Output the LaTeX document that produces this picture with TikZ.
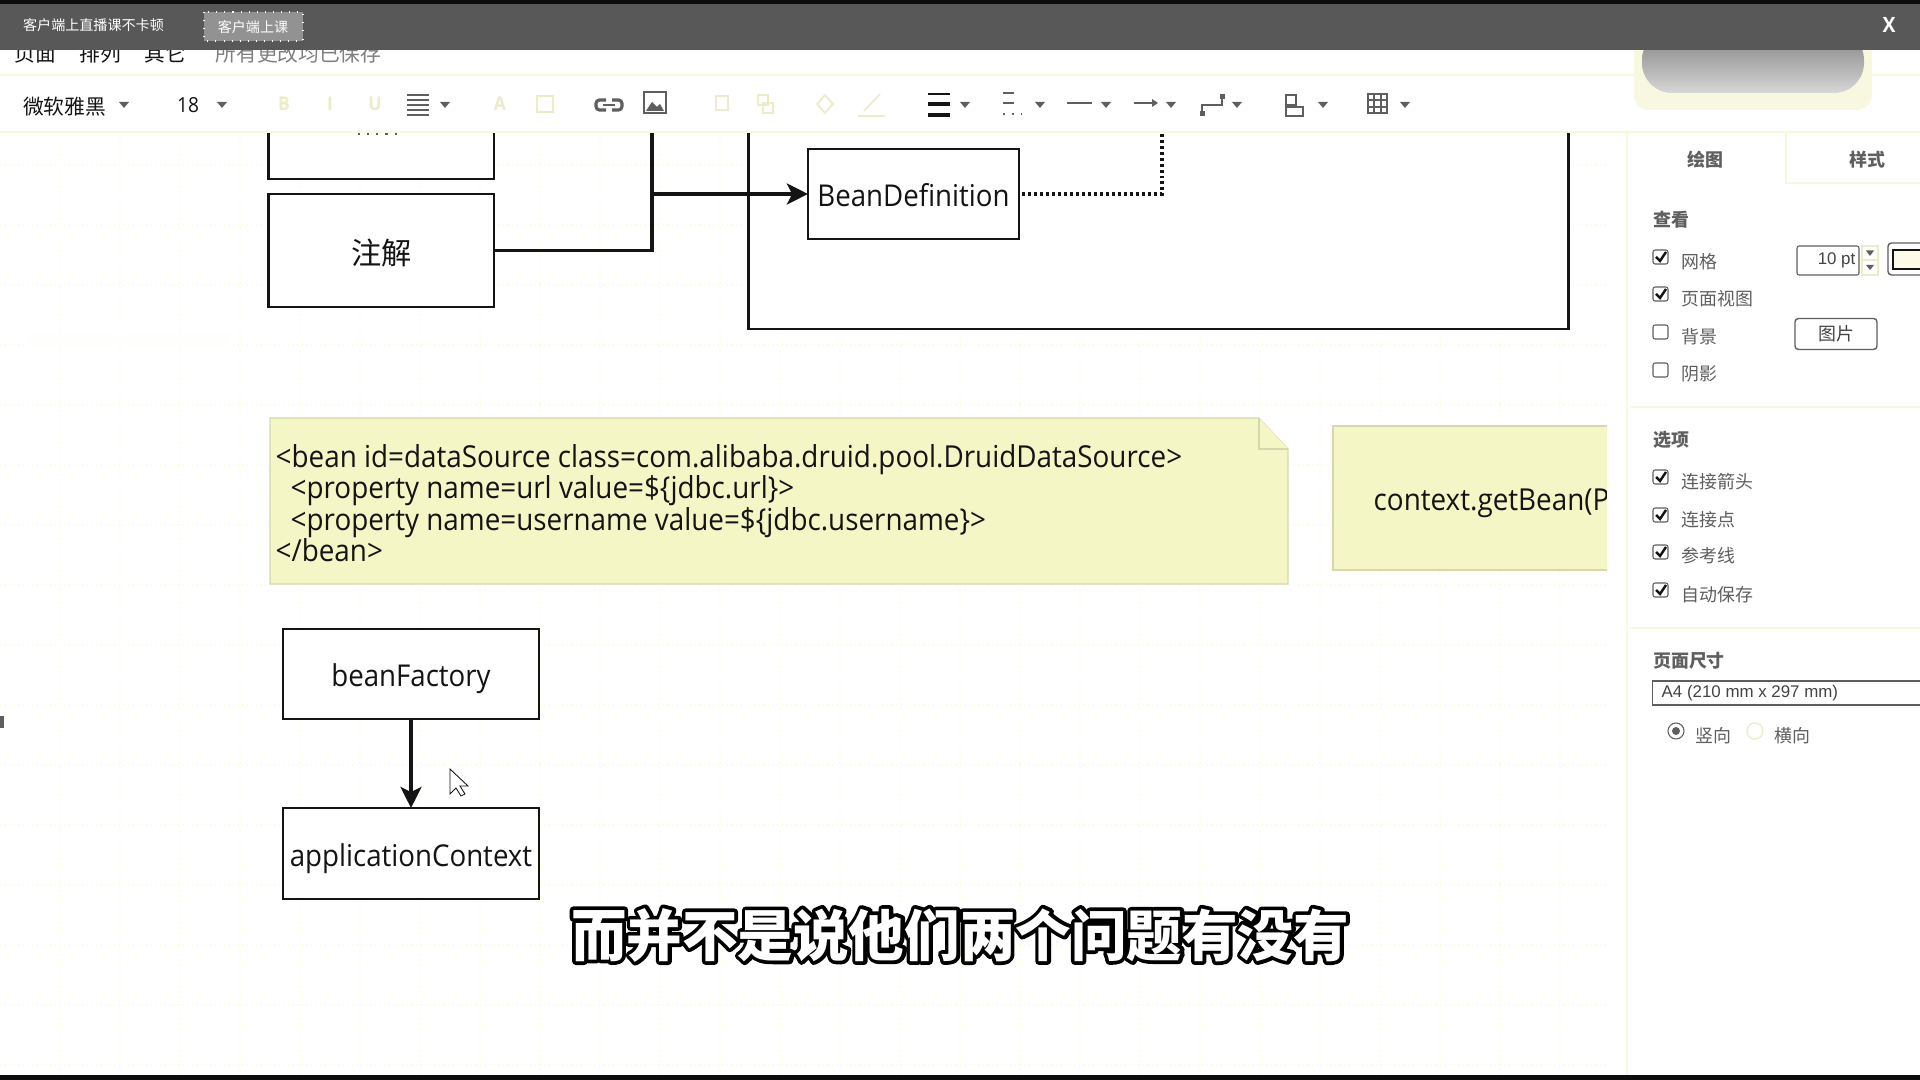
\documentclass[tikz,border=0pt]{standalone}
\usepackage{fontspec}
\usetikzlibrary{calc,arrows.meta,positioning}
\setmainfont[FakeStretch=0.92]{Open Sans}
\newfontfamily\cjk{Noto Sans CJK SC}
\newfontfamily\arial{Liberation Sans}
\definecolor{mynote}{RGB}{245,246,197}
\definecolor{mynoteline}{RGB}{215,215,175}
\definecolor{mygrid}{RGB}{251,251,222}
\definecolor{mybar}{RGB}{88,88,88}
\definecolor{myink}{RGB}{20,20,20}
\definecolor{mygrey}{RGB}{95,95,95}
\definecolor{myfaint}{RGB}{236,236,200}
\definecolor{mysep}{RGB}{248,248,225}
\tikzstyle{boxnode}=[draw=myink,fill=white,line width=.8pt,rectangle,inner sep=0pt,outer sep=0pt,text height=8pt,text depth=.8pt,font=\fontsize{8.55}{10}\selectfont,text=myink]
\tikzstyle{link}=[draw=myink,line width=.95pt]
\tikzstyle{arrowlink}=[link,-{Stealth[length=6pt,width=6pt,inset=1.5pt]}]
\tikzstyle{notetext}=[anchor=west,align=left,inner sep=0pt,font=\fontsize{8.6}{8.96}\selectfont,text=myink]
\tikzstyle{menutext}=[inner sep=0pt,font=\cjk\fontsize{5.9}{7}\selectfont,text=myink]
\tikzstyle{paneltext}=[anchor=west,inner sep=0pt,font=\cjk\fontsize{5.1}{6}\selectfont,text=mygrey]
\tikzstyle{panelhead}=[inner sep=0pt,font=\cjk\bfseries\fontsize{5.1}{6}\selectfont,text=mygrey]
\tikzstyle{checkbox}=[draw=mygrey,fill=white,rounded corners=.6pt,line width=.3pt]
\tikzstyle{subt}=[inner sep=0pt,font=\cjk\bfseries\fontsize{15.8}{17}\selectfont]
\tikzstyle{icon}=[draw=mygrey,line width=.5pt]
\tikzstyle{faint}=[draw=myfaint,line width=.5pt]
\tikzstyle{fainttext}=[inner sep=0pt,font=\bfseries\fontsize{5.4}{6}\selectfont,text=myfaint]
\newcommand{\chevron}[2]{\fill[mygrey] (#1-4,#2-2.5) -- (#1+4,#2-2.5) -- (#1,#2+3) -- cycle;}
\newcommand{\strokeonly}[1]{\special{pdf:literal direct 1 j 1 J 2.1 w 1 Tr 0 0 0 RG}#1\special{pdf:literal direct 0 Tr}}

\begin{document}
\begin{tikzpicture}[x=.01cm,y=-.01cm]
\useasboundingbox (0,0) rectangle (1920,1080);
\fill[white] (0,0) rectangle (1920,1080);
% grid of the page
\foreach \x in {60,120,...,1620} \draw[mygrid,line width=.3pt,densely dotted] (\x,132) -- (\x,1075);
\foreach \y in {165,225,...,1065} \draw[mygrid,line width=.3pt,densely dotted] (0,\y) -- (1607,\y);
\fill[white!97!myfaint] (27,333) rectangle (230,346);
% outer frame, boxes
\draw (1158.5,195) node [boxnode, minimum width=8.19cm, minimum height=2.68cm] (frame) {};
\draw (381.25,122.5) node [boxnode, minimum width=2.255cm, minimum height=1.13cm] (xmlbox) {};
\draw (381.25,250.5) node [boxnode, minimum width=2.255cm, minimum height=1.13cm, text height=8.8pt, font=\cjk\fontsize{8.6}{10}\selectfont] (annot) {注解};
\draw (913.5,194) node [boxnode, minimum width=2.11cm, minimum height=.9cm] (bd) {BeanDefinition};
\draw (411,674) node [boxnode, minimum width=2.56cm, minimum height=.9cm] (factory) {beanFactory};
\draw (411,853.5) node [boxnode, minimum width=2.56cm, minimum height=.91cm] (appctx) {applicationContext};
\draw[mygrey,line width=.6pt,dotted] (358,133.5) -- (403,133.5);
% connectors
\coordinate (joint) at (652,194);
\coordinate (uptop) at (652,100);
\coordinate (dottop) at (1162,120);
\draw[link] (annot.east) -| (uptop);
\draw[arrowlink] (joint) -- (bd.west);
\draw[link,dash pattern=on .85pt off .85pt] ([xshift=.03cm]bd.east) -| (dottop);
\draw[arrowlink] (factory.south) -- (appctx.north);
% notes
\draw[fill=mynote,draw=mynoteline,line width=.3pt] (270,418) -- (1259,418) -- (1288,449) -- (1288,584) -- (270,584) -- cycle;
\draw[fill=mynote,draw=mynoteline,line width=.3pt] (1259,418) -- (1259,449) -- (1288,449);
\draw (275,503) node [notetext] (beanxml) {<bean id=dataSource class=com.alibaba.druid.pool.DruidDataSource>\\
\hspace*{.15cm}<property name=url value=\$\{jdbc.url\}>\\
\hspace*{.15cm}<property name=username value=\$\{jdbc.username\}>\\
</bean>};
\draw[fill=mynote,draw=mynoteline,line width=.3pt] (1333,426) rectangle (1640,570);
\draw (1373,503) node [notetext] (getbean) {context.getBean(P};
% pointer
\draw[fill=white,draw=myink,line width=.25pt] (450,769) -- (450,794) -- (456,788) -- (461,796) -- (465,794) -- (460,786) -- (468,786) -- cycle;
\fill[mygrey] (0,716) rectangle (4,728);
% right panel
\fill[white] (1607,132) rectangle (1920,1075);
\draw[mysep,line width=.5pt] (1627,132) -- (1627,1075);
\draw[mysep,line width=.5pt] (1786,132) -- (1786,183) -- (1920,183);
\draw[mysep,line width=.5pt] (1630,407) -- (1920,407);
\draw[mysep,line width=.5pt] (1630,628) -- (1920,628);
\draw (1705,160) node [panelhead] (tabdraw) {绘图};
\draw (1867,160) node [panelhead] (tabstyle) {样式};
\draw (1671,220) node [panelhead] (headview) {查看};
\draw (1671,440) node [panelhead] (headopt) {选项};
\draw (1689,661) node [panelhead] (headsize) {页面尺寸};
\foreach \i/\y/\t in {a/262/网格,b/299/页面视图,c/337/背景,d/374/阴影,e/482/连接箭头,f/520/连接点,g/556/参考线,h/595/自动保存}
  \draw (1681,\y) node [paneltext] (label\i) {\t};
\foreach \y in {257,294,332,370,477,515,552,590}
  \draw[checkbox] (1653,\y-7) rectangle (1668,\y+7);
\foreach \y in {257,294,477,515,552,590}
  \draw[myink,line width=.7pt] (1656,\y) -- (1660,\y+4) -- (1666,\y-5);
\draw[checkbox] (1797,246) rectangle (1859,275);
\draw (1856,260) node [anchor=east,inner sep=0pt,font=\arial\fontsize{4.8}{6}\selectfont,text=myink!80] (ptsize) {10 pt};
\draw[faint] (1862,246) rectangle (1878,275);
\draw[faint] (1862,260) -- (1878,260);
\chevron{1870}{253}
\fill[mygrey] (1866,265) -- (1874,265) -- (1870,270) -- cycle;
\draw[mygrey,fill=white,line width=.4pt,rounded corners=1pt] (1888,243) rectangle (1930,275);
\draw[myink,fill=mynote!40,line width=.6pt] (1893,250) rectangle (1930,269);
\draw (1836,334) node [draw=mygrey,fill=white,line width=.4pt,rounded corners=1pt,minimum width=.82cm,minimum height=.31cm,inner sep=0pt,font=\cjk\fontsize{5.1}{6}\selectfont,text=myink!80] (picbtn) {图片};
\draw (1786.5,693) node [draw=mygrey,fill=white,line width=.3pt,minimum width=2.67cm,minimum height=.24cm,inner sep=0pt] (combo) {};
\draw (1661,693) node [anchor=west,inner sep=0pt,font=\arial\fontsize{4.8}{6}\selectfont,text=myink!80] (combotext) {A4 (210 mm x 297 mm)};
\draw[mygrey,fill=white,line width=.3pt] (1676,731) circle (.08cm);
\fill[mygrey] (1676,731) circle (.04cm);
\draw[myfaint,line width=.4pt] (1755,731) circle (.08cm);
\draw (1695,736) node [paneltext] (portrait) {竖向};
\draw (1774,736) node [paneltext] (landscape) {横向};
% menu and tool row
\fill[white] (0,0) rectangle (1920,132);
\draw[mysep,line width=.5pt] (0,75) -- (1920,75);
\draw[mysep,line width=.5pt] (0,132) -- (1920,132);
\draw (35.5,54) node [menutext] (mpage) {页面};
\draw (100.5,54) node [menutext] (marrange) {排列};
\draw (165,54) node [menutext] (mother) {其它};
\draw (298.5,54) node [menutext,text=mygrey!80] (msaved) {所有更改均已保存};
\draw (64.5,107) node [menutext] (mfont) {微软雅黑};
\draw (188,105) node [inner sep=0pt,font=\fontsize{5.9}{7}\selectfont,text=myink] (msize) {18};
\foreach \x in {124,222,445,965,1040,1106,1171,1237,1323,1405} {\fill[mygrey] (\x-5,102) -- (\x+5,102) -- (\x,108) -- cycle;}
% faded tools
\foreach \x/\t in {284/B,330/I,375/U,500/A}
  \draw (\x,104) node [fainttext] (tool\t) {\t};
\draw[faint] (537,96) rectangle (553,112);
\draw[faint] (716,96) rectangle (728,110);
\draw[faint] (758,95) rectangle (768,105);
\draw[faint] (763,103) rectangle (773,113);
\draw[faint] (825,95) -- (833,104) -- (825,113) -- (817,104) -- cycle;
\draw[faint] (864,111) -- (880,94);
\draw[faint] (858,116) -- (885,116);
% dark tools
\foreach \y in {95,100,105,110,115} \draw[icon] (407,\y) -- (429,\y);
\draw[icon,line width=.9pt,rounded corners=1pt] (606,100) -- (596,100) -- (596,110) -- (606,110);
\draw[icon,line width=.9pt,rounded corners=1pt] (612,100) -- (622,100) -- (622,110) -- (612,110);
\draw[icon] (603,105) -- (615,105);
\draw[icon] (644,92) rectangle (666,113);
\fill[mygrey] (646,111) -- (652,102) -- (657,107) -- (660,104) -- (664,111) -- cycle;
\draw[myink,line width=.4pt] (928,94) -- (950,94);
\draw[myink,line width=1.3pt] (928,104) -- (950,104);
\draw[myink,line width=.9pt] (928,115) -- (950,115);
\draw[icon,dashed] (1003,93) -- (1024,93);
\draw[icon,dashed] (1003,103) -- (1024,103);
\draw[icon,dotted] (1003,114) -- (1024,114);
\draw[icon] (1067,103) -- (1092,103);
\draw[icon] (1134,103) -- (1155,103);
\fill[mygrey] (1152,99) -- (1158,103) -- (1152,107) -- cycle;
\draw[icon] (1202,115) -- (1202,105) -- (1222,105) -- (1222,95);
\fill[mygrey] (1200,111) rectangle (1205,116);
\fill[mygrey] (1220,94) rectangle (1225,99);
\draw[icon] (1286,95) rectangle (1296,105);
\draw[icon] (1286,107) rectangle (1303,116);
\draw[icon] (1368,94) rectangle (1387,113);
\foreach \x in {1374,1381} \draw[icon] (\x,94) -- (\x,113);
\foreach \y in {100,107} \draw[icon] (1368,\y) -- (1387,\y);
% top bar
\fill[mysep,rounded corners=.15cm] (1634,30) rectangle (1872,110);
\draw[draw=none,top color=mygrey!80,bottom color=mygrey!25,rounded corners=.3cm] (1642,30) rectangle (1864,93);
\fill[mybar] (0,0) rectangle (1920,50);
\fill[black!95] (0,0) rectangle (1920,4);
\draw[white,line width=.3pt,dotted,fill=white!35!mybar] (204,12) rectangle (303,41);
\draw (93.5,25) node [inner sep=0pt,font=\cjk\fontsize{4}{5}\selectfont,text=white] (tablive) {客户端上直播课不卡顿};
\draw (253,27) node [inner sep=0pt,font=\cjk\fontsize{4}{5}\selectfont,text=white] (tabclass) {客户端上课};
\draw (1889,25) node [inner sep=0pt,font=\bfseries\fontsize{6}{7}\selectfont,text=white] (closex) {X};
% bottom and caption
\fill[black!95] (0,1075) rectangle (1920,1080);
\draw (960,935) node [subt,text=black] (capline) {\strokeonly{而并不是说他们两个问题有没有}};
\draw (960,935) node [subt,text=white] (caption) {而并不是说他们两个问题有没有};
\end{tikzpicture}
\end{document}
